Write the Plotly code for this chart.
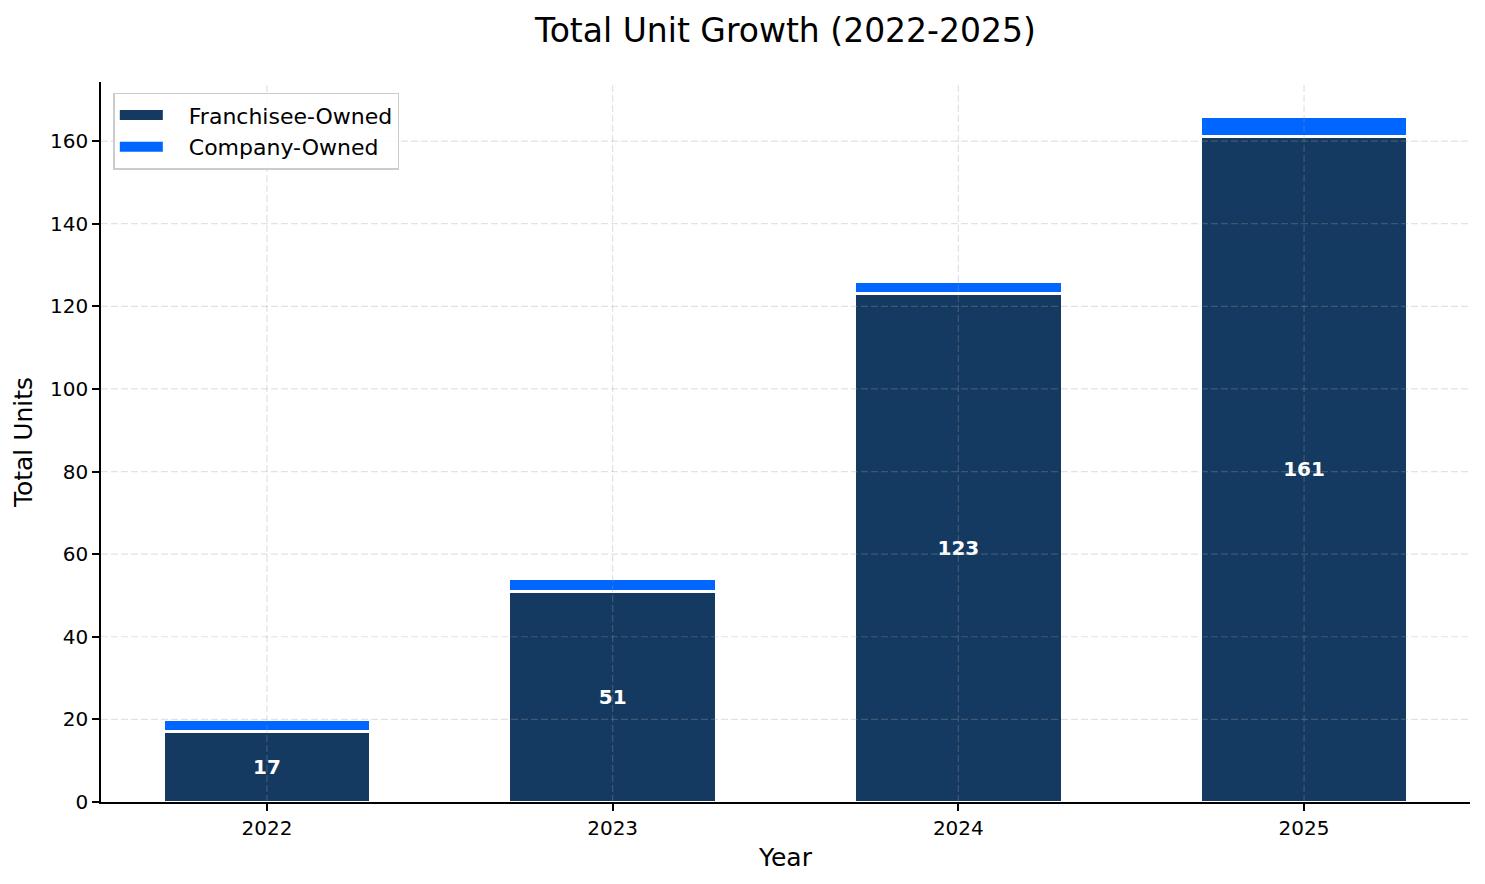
import plotly.graph_objects as go

years = ["2022", "2023", "2024", "2025"]
franchisee = [17, 51, 123, 161]
company = [3, 3, 3, 5]
y_ticks = [0, 20, 40, 60, 80, 100, 120, 140, 160]
series_names = ["Franchisee-Owned", "Company-Owned"]

navy = "#153A62"
blue = "#0066FF"
font = "DejaVu Sans"

fig = go.Figure()
fig.add_trace(go.Bar(
    x=years, y=franchisee, name=series_names[0], showlegend=False,
    marker=dict(color=navy, line=dict(color="white", width=3)),
    width=0.6,
    text=[str(v) for v in franchisee], textposition="inside",
    insidetextanchor="middle",
    textfont=dict(color="white", size=20, family=font, weight="bold"),
    constraintext="none",
))
fig.add_trace(go.Bar(
    x=years, y=company, name=series_names[1], showlegend=False,
    marker=dict(color=blue, line=dict(color="white", width=3)),
    width=0.6,
))
# legend entries drawn as wide patches
for nm, col in zip(series_names, [navy, blue]):
    fig.add_trace(go.Scatter(x=[None], y=[None], mode="lines",
                             name="\u00a0\u00a0\u00a0" + nm,
                             line=dict(color=col, width=11), showlegend=True))

grid_style = dict(color="rgba(160,160,160,0.3)", width=1.2, dash="7px,3px")
shapes = []
for yv in y_ticks[1:]:
    shapes.append(dict(type="line", xref="paper", yref="y", x0=0, x1=1, y0=yv, y1=yv,
                       line=grid_style, layer="above"))
for i, _ in enumerate(years):
    shapes.append(dict(type="line", xref="x", yref="paper", x0=i, x1=i, y0=0, y1=1,
                       line=grid_style, layer="above"))

fig.update_layout(
    barmode="stack",
    width=1485, height=884,
    paper_bgcolor="white", plot_bgcolor="white",
    font=dict(family=font, color="black"),
    margin=dict(l=93, r=23, t=74, b=90),
    title=dict(text="Total Unit Growth (2022-2025)", x=0.5, xref="paper", xanchor="center",
               y=0.975, yanchor="middle", font=dict(size=33, family=font)),
    shapes=shapes,
    showlegend=True,
    legend=dict(x=0.009, y=0.985, xanchor="left", yanchor="top",
                bgcolor="rgba(255,255,255,0.85)", bordercolor="#CCCCCC", borderwidth=1.5,
                font=dict(size=22, family=font), traceorder="normal",
                itemwidth=43),
    xaxis=dict(
        type="category", range=[-0.48, 3.48],
        title=dict(text="Year", font=dict(size=25), standoff=10),
        showgrid=False, zeroline=False,
        showline=True, linecolor="black", linewidth=1.6,
        ticks="outside", ticklen=7, tickwidth=1.6, tickcolor="black",
        tickfont=dict(size=20),
    ),
    yaxis=dict(
        range=[0, 174.3],
        tickvals=y_ticks,
        title=dict(text="Total Units", font=dict(size=25), standoff=10),
        showgrid=False, zeroline=False,
        showline=True, linecolor="black", linewidth=1.6,
        ticks="outside", ticklen=7, tickwidth=1.6, tickcolor="black",
        tickfont=dict(size=20),
    ),
)

fig.write_html("out.html")
